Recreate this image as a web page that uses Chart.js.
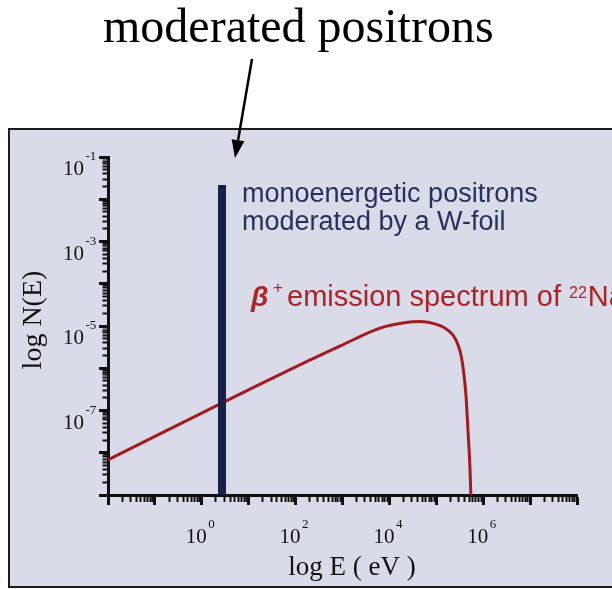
<!DOCTYPE html>
<html>
<head>
<meta charset="utf-8">
<title>Positron energy spectrum</title>
<script src="https://cdn.jsdelivr.net/npm/chart.js@4.4.1/dist/chart.umd.min.js"></script>
<style>
  html, body { margin: 0; padding: 0; background: #fff; }
  #wrap { width: 612px; height: 589px; }
</style>
</head>
<body>
<div id="wrap"><canvas id="spectrum" width="612" height="589"></canvas></div>
<script>
// beta+ emission spectrum of Na-22: energy (eV) and relative intensity
const spectrumE = [0.01, 47, 900, 6500, 22200, 46600, 97500, 176000, 262000, 352000, 428000, 473000, 521000, 545000];
const spectrumN = [6.8e-9, 7.2e-7, 3.37e-6, 9.0e-6, 1.21e-5, 1.28e-5, 1.11e-5, 8.0e-6, 4.67e-6, 1.57e-6, 2.33e-7, 3.45e-8, 4.6e-9, 1e-9];

// positrons moderated by the W-foil: a single line at a few eV
const moderatedE = [2.7, 2.7];
const moderatedN = [1e-9, 0.0217];

const xRange = [1e-2, 1e8];
const yRange = [1e-9, 1e-1];
const xLabelExps = [0, 2, 4, 6];
const yLabelExps = [-1, -3, -5, -7];

const serif = '"Liberation Serif", "Times New Roman", serif';
const sans = '"Liberation Sans", Arial, sans-serif';
const ink = '#111';

// 1..9 x 10^n for every decade in the range
function decadeTicks(min, max) {
  const ticks = [];
  const lo = Math.round(Math.log10(min));
  const hi = Math.round(Math.log10(max));
  for (let e = lo; e < hi; e++) {
    for (let m = 1; m < 10; m++) {
      ticks.push({ value: m * Math.pow(10, e), major: m === 1 });
    }
  }
  ticks.push({ value: max, major: true });
  return ticks;
}

const isMajor = ctx => !!(ctx.tick && ctx.tick.major);

// "10" with a raised exponent
function drawPower(ctx, rightX, baseY, exp) {
  ctx.font = '21px ' + serif;
  ctx.textAlign = 'right';
  ctx.fillText('10', rightX, baseY);
  ctx.font = '13px ' + serif;
  ctx.textAlign = 'left';
  ctx.fillText(String(exp), rightX + 1.5, baseY - 15);
}

const decorations = {
  id: 'decorations',
  beforeDraw(chart) {
    const ctx = chart.ctx;
    ctx.save();
    ctx.fillStyle = '#fff';
    ctx.fillRect(0, 0, chart.width, chart.height);
    // slide frame
    ctx.fillStyle = '#d9dbe8';
    ctx.fillRect(9, 129, chart.width, 458);
    ctx.strokeStyle = '#1c1c1c';
    ctx.lineWidth = 2;
    ctx.beginPath();
    ctx.moveTo(chart.width + 5, 129);
    ctx.lineTo(9, 129);
    ctx.lineTo(9, 587);
    ctx.lineTo(chart.width + 5, 587);
    ctx.stroke();
    ctx.restore();
  },
  afterDraw(chart) {
    const ctx = chart.ctx;
    const xs = chart.scales.x;
    const ys = chart.scales.y;
    ctx.save();
    ctx.fillStyle = ink;
    ctx.textBaseline = 'alphabetic';

    // tick labels
    xLabelExps.forEach(p => {
      const px = xs.getPixelForValue(Math.pow(10, p));
      drawPower(ctx, px + 5, 543, p);
    });
    yLabelExps.forEach(p => {
      const py = ys.getPixelForValue(Math.pow(10, p));
      drawPower(ctx, 84, py + 18, p);
    });

    // axis titles
    ctx.font = '27px ' + serif;
    ctx.textAlign = 'center';
    ctx.fillText('log E ( eV )', 352, 575);
    ctx.save();
    ctx.translate(41, 320);
    ctx.rotate(-Math.PI / 2);
    ctx.font = '28px ' + serif;
    ctx.fillText('log N(E)', 0, 0);
    ctx.restore();

    // heading above the frame and its arrow
    ctx.font = '48px ' + serif;
    ctx.textAlign = 'left';
    ctx.fillStyle = '#000';
    ctx.fillText('moderated positrons', 103, 42);

    const tip = { x: 235, y: 158 };
    const tail = { x: 252, y: 59 };
    const dx = tip.x - tail.x, dy = tip.y - tail.y;
    const len = Math.hypot(dx, dy);
    const ux = dx / len, uy = dy / len;
    const headLen = 18, headHalf = 6.5;
    const bx = tip.x - ux * headLen, by = tip.y - uy * headLen;
    ctx.strokeStyle = '#000';
    ctx.lineWidth = 2.5;
    ctx.beginPath();
    ctx.moveTo(tail.x, tail.y);
    ctx.lineTo(bx, by);
    ctx.stroke();
    ctx.beginPath();
    ctx.moveTo(tip.x, tip.y);
    ctx.lineTo(bx + uy * headHalf, by - ux * headHalf);
    ctx.lineTo(bx - uy * headHalf, by + ux * headHalf);
    ctx.closePath();
    ctx.fill();

    // annotations inside the plot
    ctx.fillStyle = '#29305c';
    ctx.font = '27px ' + sans;
    ctx.fillText('monoenergetic positrons', 242, 202);
    ctx.fillText('moderated by a W-foil', 242, 230);

    ctx.fillStyle = '#ad2326';
    ctx.font = 'bold italic 28px ' + sans;
    ctx.fillText('\u03B2', 251, 306);
    ctx.font = '17px ' + sans;
    ctx.fillText('+', 273, 293);
    ctx.font = '29px ' + sans;
    ctx.fillText('emission spectrum of', 287, 306);
    const ofEnd = 287 + ctx.measureText('emission spectrum of').width;
    ctx.font = '16px ' + sans;
    ctx.fillText('22', ofEnd + 8, 298);
    const supEnd = ofEnd + 8 + ctx.measureText('22').width;
    ctx.font = '29px ' + sans;
    ctx.fillText('Na', supEnd + 1, 306);

    ctx.restore();
  }
};

function axisGrid() {
  return {
    display: true,
    drawOnChartArea: false,
    drawTicks: true,
    tickLength: 9,
    tickColor: ink,
    tickWidth: ctx => isMajor(ctx) ? 3 : 2
  };
}

const xGrid = axisGrid();
xGrid.tickLength = 10;
xGrid.tickBorderDash = ctx => isMajor(ctx) ? [] : [5, 20];

const yGrid = axisGrid();
// left-side ticks are stroked from the outer end, so start minor ones with a gap
yGrid.tickBorderDash = ctx => isMajor(ctx) ? [] : [20, 3.5];
yGrid.tickBorderDashOffset = ctx => isMajor(ctx) ? 0 : 20;

new Chart(document.getElementById('spectrum'), {
  type: 'line',
  data: {
    datasets: [
      {
        label: 'moderated positrons',
        data: moderatedE.map((e, i) => ({ x: e, y: moderatedN[i] })),
        borderColor: '#17204b',
        borderWidth: 8,
        borderCapStyle: 'butt',
        pointRadius: 0,
        order: 0
      },
      {
        label: 'beta+ spectrum 22Na',
        data: spectrumE.map((e, i) => ({ x: e, y: spectrumN[i] })),
        borderColor: '#a31b1e',
        borderWidth: 3,
        pointRadius: 0,
        cubicInterpolationMode: 'monotone',
        order: 1
      }
    ]
  },
  options: {
    responsive: false,
    animation: false,
    events: [],
    layout: { padding: { top: 157, right: 35, bottom: 0, left: 0 } },
    plugins: {
      legend: { display: false },
      tooltip: { enabled: false }
    },
    scales: {
      x: {
        type: 'logarithmic',
        min: xRange[0],
        max: xRange[1],
        afterBuildTicks: scale => { scale.ticks = decadeTicks(xRange[0], xRange[1]); },
        afterFit: scale => { scale.height = 94; },
        ticks: { display: false },
        grid: xGrid,
        border: { display: true, width: 3, color: ink }
      },
      y: {
        type: 'logarithmic',
        min: yRange[0],
        max: yRange[1],
        afterBuildTicks: scale => { scale.ticks = decadeTicks(yRange[0], yRange[1]); },
        afterFit: scale => { scale.width = 108; },
        ticks: { display: false },
        grid: yGrid,
        border: { display: true, width: 3, color: ink }
      }
    }
  },
  plugins: [decorations]
});
</script>
</body>
</html>
